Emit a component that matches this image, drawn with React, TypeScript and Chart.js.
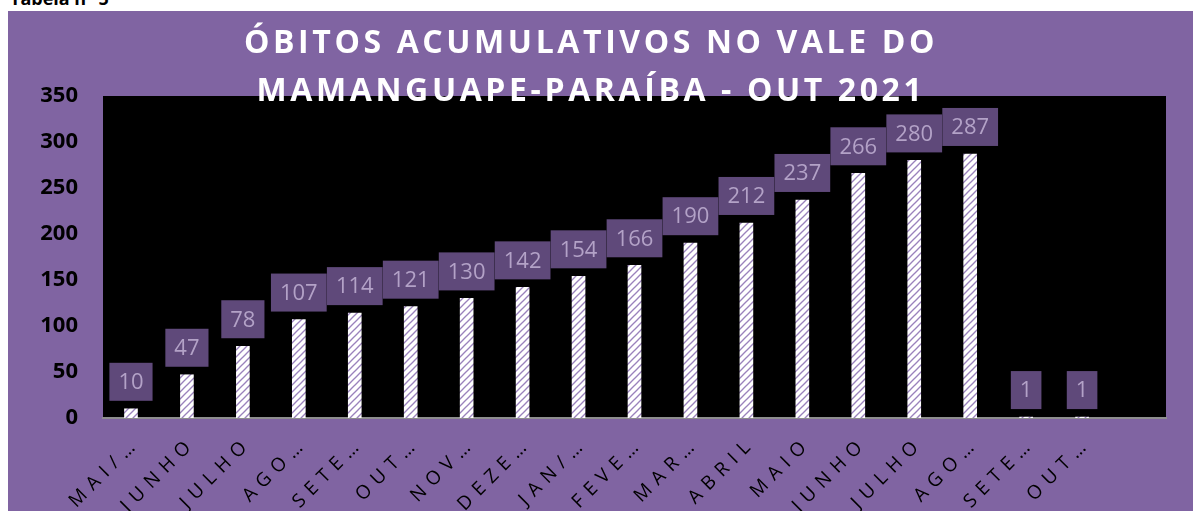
import React, { useEffect, useRef } from "react";
import { Chart, registerables } from "chart.js";
Chart.register(...registerables);

const categories = [
  "MAI/…", "JUNHO", "JULHO", "AGO…", "SETE…", "OUT…", "NOV…", "DEZE…", "JAN/…",
  "FEVE…", "MAR…", "ABRIL", "MAIO", "JUNHO", "JULHO", "AGO…", "SETE…", "OUT…", "",
];
const obitos = [10, 47, 78, 107, 114, 121, 130, 142, 154, 166, 190, 212, 237, 266, 280, 287, 1, 1, null];
const yMin = 0;
const yMax = 350;
const yStep = 50;
const titleLines = ["ÓBITOS ACUMULATIVOS NO VALE DO", "MAMANGUAPE-PARAÍBA - OUT 2021"];
const caption = "Tabela n° 5";

const PURPLE = "#8064A2";
const BOX = "#5F497A";
const BOX_TEXT = "#B3A2C7";

function makePattern(ctx: CanvasRenderingContext2D) {
  const s = 7;
  const c = document.createElement("canvas");
  c.width = s;
  c.height = s;
  const g = c.getContext("2d")!;
  g.fillStyle = "#ffffff";
  g.fillRect(0, 0, s, s);
  g.strokeStyle = "#9A82BC";
  g.lineWidth = 1.3;
  for (const off of [-s, 0, s]) {
    g.beginPath();
    g.moveTo(off - 1, s + 1);
    g.lineTo(off + s + 1, -1);
    g.stroke();
  }
  return ctx.createPattern(c, "repeat");
}

export default function App() {
  const ref = useRef<HTMLCanvasElement | null>(null);
  useEffect(() => {
    const canvas = ref.current!;
    const ctx = canvas.getContext("2d")!;
    const pattern = makePattern(ctx);

    const bgPlugin = {
      id: "bg",
      beforeDraw(chart: any) {
        const c = chart.ctx;
        const a = chart.chartArea;
        c.save();
        c.fillStyle = PURPLE;
        c.fillRect(0, 0, chart.width, chart.height);
        c.fillStyle = "#000000";
        c.fillRect(a.left, a.top, a.right - a.left, a.bottom - a.top);
        c.restore();
      },
    };

    const labelPlugin = {
      id: "valueBoxes",
      afterDatasetsDraw(chart: any) {
        const c = chart.ctx;
        const meta = chart.getDatasetMeta(0);
        const data = chart.data.datasets[0].data;
        c.save();
        c.font = '22px "Open Sans"';
        meta.data.forEach((bar: any, i: number) => {
          const v = data[i];
          if (v == null) return;
          const t = String(v);
          const w = c.measureText(t).width + 18;
          const h = 38;
          const bottom = bar.y - 8;
          c.fillStyle = BOX;
          c.fillRect(bar.x - w / 2, bottom - h, w, h);
          c.fillStyle = BOX_TEXT;
          c.textAlign = "center";
          c.textBaseline = "middle";
          c.fillText(t, bar.x, bottom - h / 2 + 1);
        });
        c.restore();
      },
    };

    const textPlugin = {
      id: "texts",
      afterDraw(chart: any) {
        const c = chart.ctx;
        const a = chart.chartArea;
        const xs = chart.scales.x;
        // x labels
        c.save();
        c.font = '19px "Open Sans"';
        (c as any).letterSpacing = "7px";
        c.fillStyle = "#000000";
        c.textAlign = "right";
        c.textBaseline = "middle";
        chart.data.labels.forEach((lab: string, i: number) => {
          if (!lab) return;
          const x = xs.getPixelForTick(i);
          c.save();
          c.translate(x + 6, a.bottom + 22);
          c.rotate(-Math.PI / 4);
          c.fillText(lab, 0, 0);
          c.restore();
        });
        c.restore();
        // title
        c.save();
        c.font = 'bold 32px "Open Sans"';
        (c as any).letterSpacing = "3.6px";
        c.fillStyle = "#ffffff";
        c.textAlign = "center";
        c.textBaseline = "alphabetic";
        c.fillText(titleLines[0], 583, 42);
        c.fillText(titleLines[1], 583, 90);
        c.restore();
      },
    };

    const chart = new Chart(ctx, {
      type: "bar",
      data: {
        labels: categories,
        datasets: [
          {
            data: obitos as any,
            backgroundColor: pattern as any,
            borderWidth: 0,
            barThickness: 13,
          },
        ],
      },
      options: {
        responsive: false,
        animation: false,
        layout: { padding: { top: 85, right: 27, left: 0, bottom: 0 } },
        plugins: { legend: { display: false }, tooltip: { enabled: false }, title: { display: false } },
        scales: {
          x: {
            grid: { display: false, drawTicks: false },
            border: { display: true, color: "#8E8E8E", width: 2 },
            ticks: { display: false },
            afterFit: (s: any) => {
              s.height = 93;
            },
          },
          y: {
            min: yMin,
            max: yMax,
            grid: { display: false, drawTicks: false },
            border: { display: false },
            ticks: {
              stepSize: yStep,
              padding: 25,
              color: "#000000",
              font: { family: "Open Sans", weight: "bold", size: 22 },
            },
            afterFit: (s: any) => {
              s.width = 95;
            },
          },
        },
      },
      plugins: [bgPlugin, labelPlugin, textPlugin],
    });
    return () => chart.destroy();
  }, []);

  return (
    <div>
      <div
        style={{
          position: "absolute",
          left: 10,
          top: -11,
          fontFamily: '"Open Sans", sans-serif',
          fontWeight: "bold",
          fontSize: 18,
          lineHeight: "18px",
          color: "#000",
        }}
      >
        {caption}
      </div>
      <div style={{ position: "absolute", left: 8, top: 11, width: 1185, height: 500, background: PURPLE }}>
        <canvas ref={ref} width={1185} height={500} style={{ display: "block" }} />
      </div>
    </div>
  );
}
